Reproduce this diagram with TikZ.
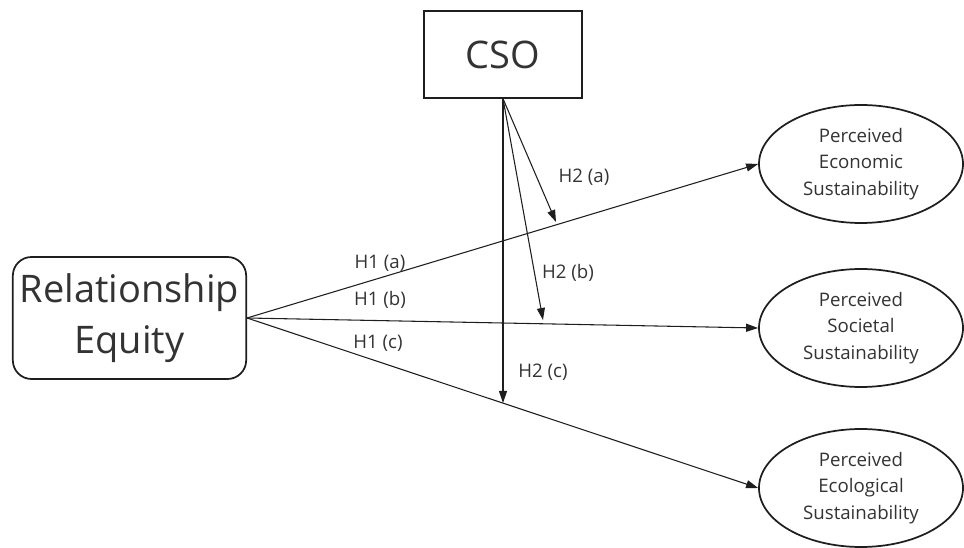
\documentclass[tikz,border=0pt]{standalone}
\usepackage{fontspec}
\setmainfont{Open Sans}
\usetikzlibrary{positioning,arrows.meta,shapes.geometric}
\definecolor{inkgray}{HTML}{333333}
\definecolor{linegray}{HTML}{1E1E1E}

\tikzset{
  bigtext/.style={font=\fontsize{28.5}{38}\selectfont},
  outcome/.style={draw, ellipse, line width=1.3pt, inner sep=0pt,
    minimum width=153pt, minimum height=88.5pt, align=center,
    font=\fontsize{14}{20}\selectfont},
  hyp/.style={font=\fontsize{14}{17}\selectfont}
}

\begin{document}
\begin{tikzpicture}[x=0.75pt, y=-0.75pt, line width=0.8pt,
  >={Triangle[length=9pt,width=6pt]}, text=inkgray, draw=linegray]
\useasboundingbox (0,0) rectangle (964,548);
% nodes
\node [draw, line width=1.3pt, minimum width=118.5pt, minimum height=65pt, bigtext] (cso) at (503,54.5) {CSO};
\node [draw, rounded corners=14pt, line width=1.3pt, minimum width=175pt, minimum height=91.5pt, align=center, bigtext] (re) at (129.5,318) {Relationship\\Equity};
\node [outcome] (econ) at (861,164) {Perceived\\Economic\\Sustainability};
\node [outcome] (soc) at (861,328) {Perceived\\Societal\\Sustainability};
\node [outcome] (eco) at (861,488) {Perceived\\Ecological\\Sustainability};
% ends of the moderating arrows
\coordinate (ma) at (556,222);
\coordinate (mb) at (543,320);
\coordinate (mc) at (503,403);
% arrows
\draw
	(re.east) edge[->] node{} (econ.west)
	(re.east) edge[->] node{} (soc.west)
	(re.east) edge[->] node{} (eco.west)
	(cso.south) edge[->] node{} (ma)
	(cso.south) edge[->] node{} (mb)
	(cso.south) edge[->] node{} (mc);
% labels
\node [hyp] (h1a) at (380,263) {H1 (a)};
\node [hyp] (h1b) at (380,300) {H1 (b)};
\node [hyp] (h1c) at (378,343) {H1 (c)};
\node [hyp] (h2a) at (584,177) {H2 (a)};
\node [hyp] (h2b) at (568,273) {H2 (b)};
\node [hyp] (h2c) at (543,372) {H2 (c)};
\end{tikzpicture}
\end{document}
